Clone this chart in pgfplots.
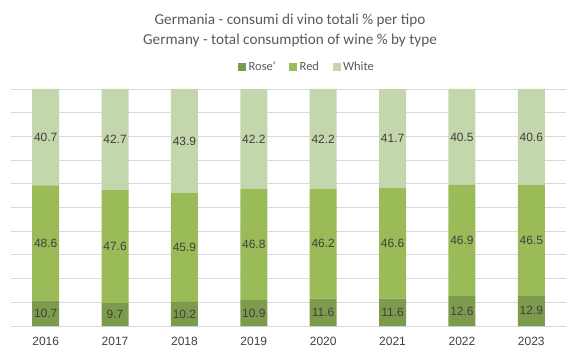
\documentclass[border=0pt]{standalone}
\usepackage{pgfplots}
\pgfplotsset{compat=1.18}
\usepackage{pgfplotstable}
\usepackage{fontspec}
\setmainfont{Liberation Sans}
\newfontfamily\titlefont{Carlito}
\definecolor{crose}{HTML}{7D9B4C}
\definecolor{cred}{HTML}{9BBB59}
\definecolor{cwhite}{HTML}{C4D6AB}
\definecolor{txt}{HTML}{404040}
\definecolor{ttl}{HTML}{595959}
\definecolor{grd}{HTML}{D9D9D9}
\pgfplotstableread{
x year rose red white
0 2016 10.7 48.6 40.7
1 2017 9.7 47.6 42.7
2 2018 10.2 45.9 43.9
3 2019 10.9 46.8 42.2
4 2020 11.6 46.2 42.2
5 2021 11.6 46.6 41.7
6 2022 12.6 46.9 40.5
7 2023 12.9 46.5 40.6
}\datatable
\begin{document}
\begin{tikzpicture}
\path[use as bounding box] (0,0) rectangle (583bp,364bp);
\node[font=\titlefont\fontsize{15.2bp}{18bp}\selectfont, text=ttl] at (290bp,344bp) {Germania - consumi di vino totali \% per tipo};
\node[font=\titlefont\fontsize{15.2bp}{18bp}\selectfont, text=ttl] at (290bp,324bp) {Germany - total consumption of wine \% by type};
\begin{axis}[
  at={(11bp,38bp)}, anchor=south west,
  scale only axis, width=555bp, height=237bp,
  ybar stacked, bar width=27bp,
  xmin=-0.5, xmax=7.5, ymin=0, ymax=100,
  ytick={0,10,...,100}, yticklabels={},
  ymajorgrids, grid style={draw=grd, line width=0.8bp},
  axis line style={draw=none},
  major tick length=0pt,
  xtick=data,
  xticklabels={2016,2017,2018,2019,2020,2021,2022,2023},
  xticklabel style={font=\fontsize{12bp}{14bp}\selectfont, text=txt, yshift=-8bp},
  point meta=explicit symbolic,
  nodes near coords={\pgfplotspointmeta},
  every node near coord/.append style={font=\fontsize{12bp}{14bp}\selectfont, text=txt, anchor=center},
  legend columns=3,
  legend style={draw=none, fill=none, at={(rel axis cs:0.409,1)}, anchor=west, yshift=22bp,
    inner xsep=0pt, inner ysep=0pt,
    font=\titlefont\fontsize{12.5bp}{14bp}\selectfont, text=ttl,
    /tikz/every even column/.append style={column sep=11bp},
    nodes={inner xsep=2.5bp}},
  legend image code/.code={\fill[#1] (0bp,-4bp) rectangle (8bp,4bp);},
]
\addplot[fill=crose, draw=none] table[x=x, y=rose, meta=rose] {\datatable};
\addplot[fill=cred, draw=none] table[x=x, y=red, meta=red] {\datatable};
\addplot[fill=cwhite, draw=none] table[x=x, y=white, meta=white] {\datatable};
\legend{Rose',Red,White}
\end{axis}
\end{tikzpicture}
\end{document}
